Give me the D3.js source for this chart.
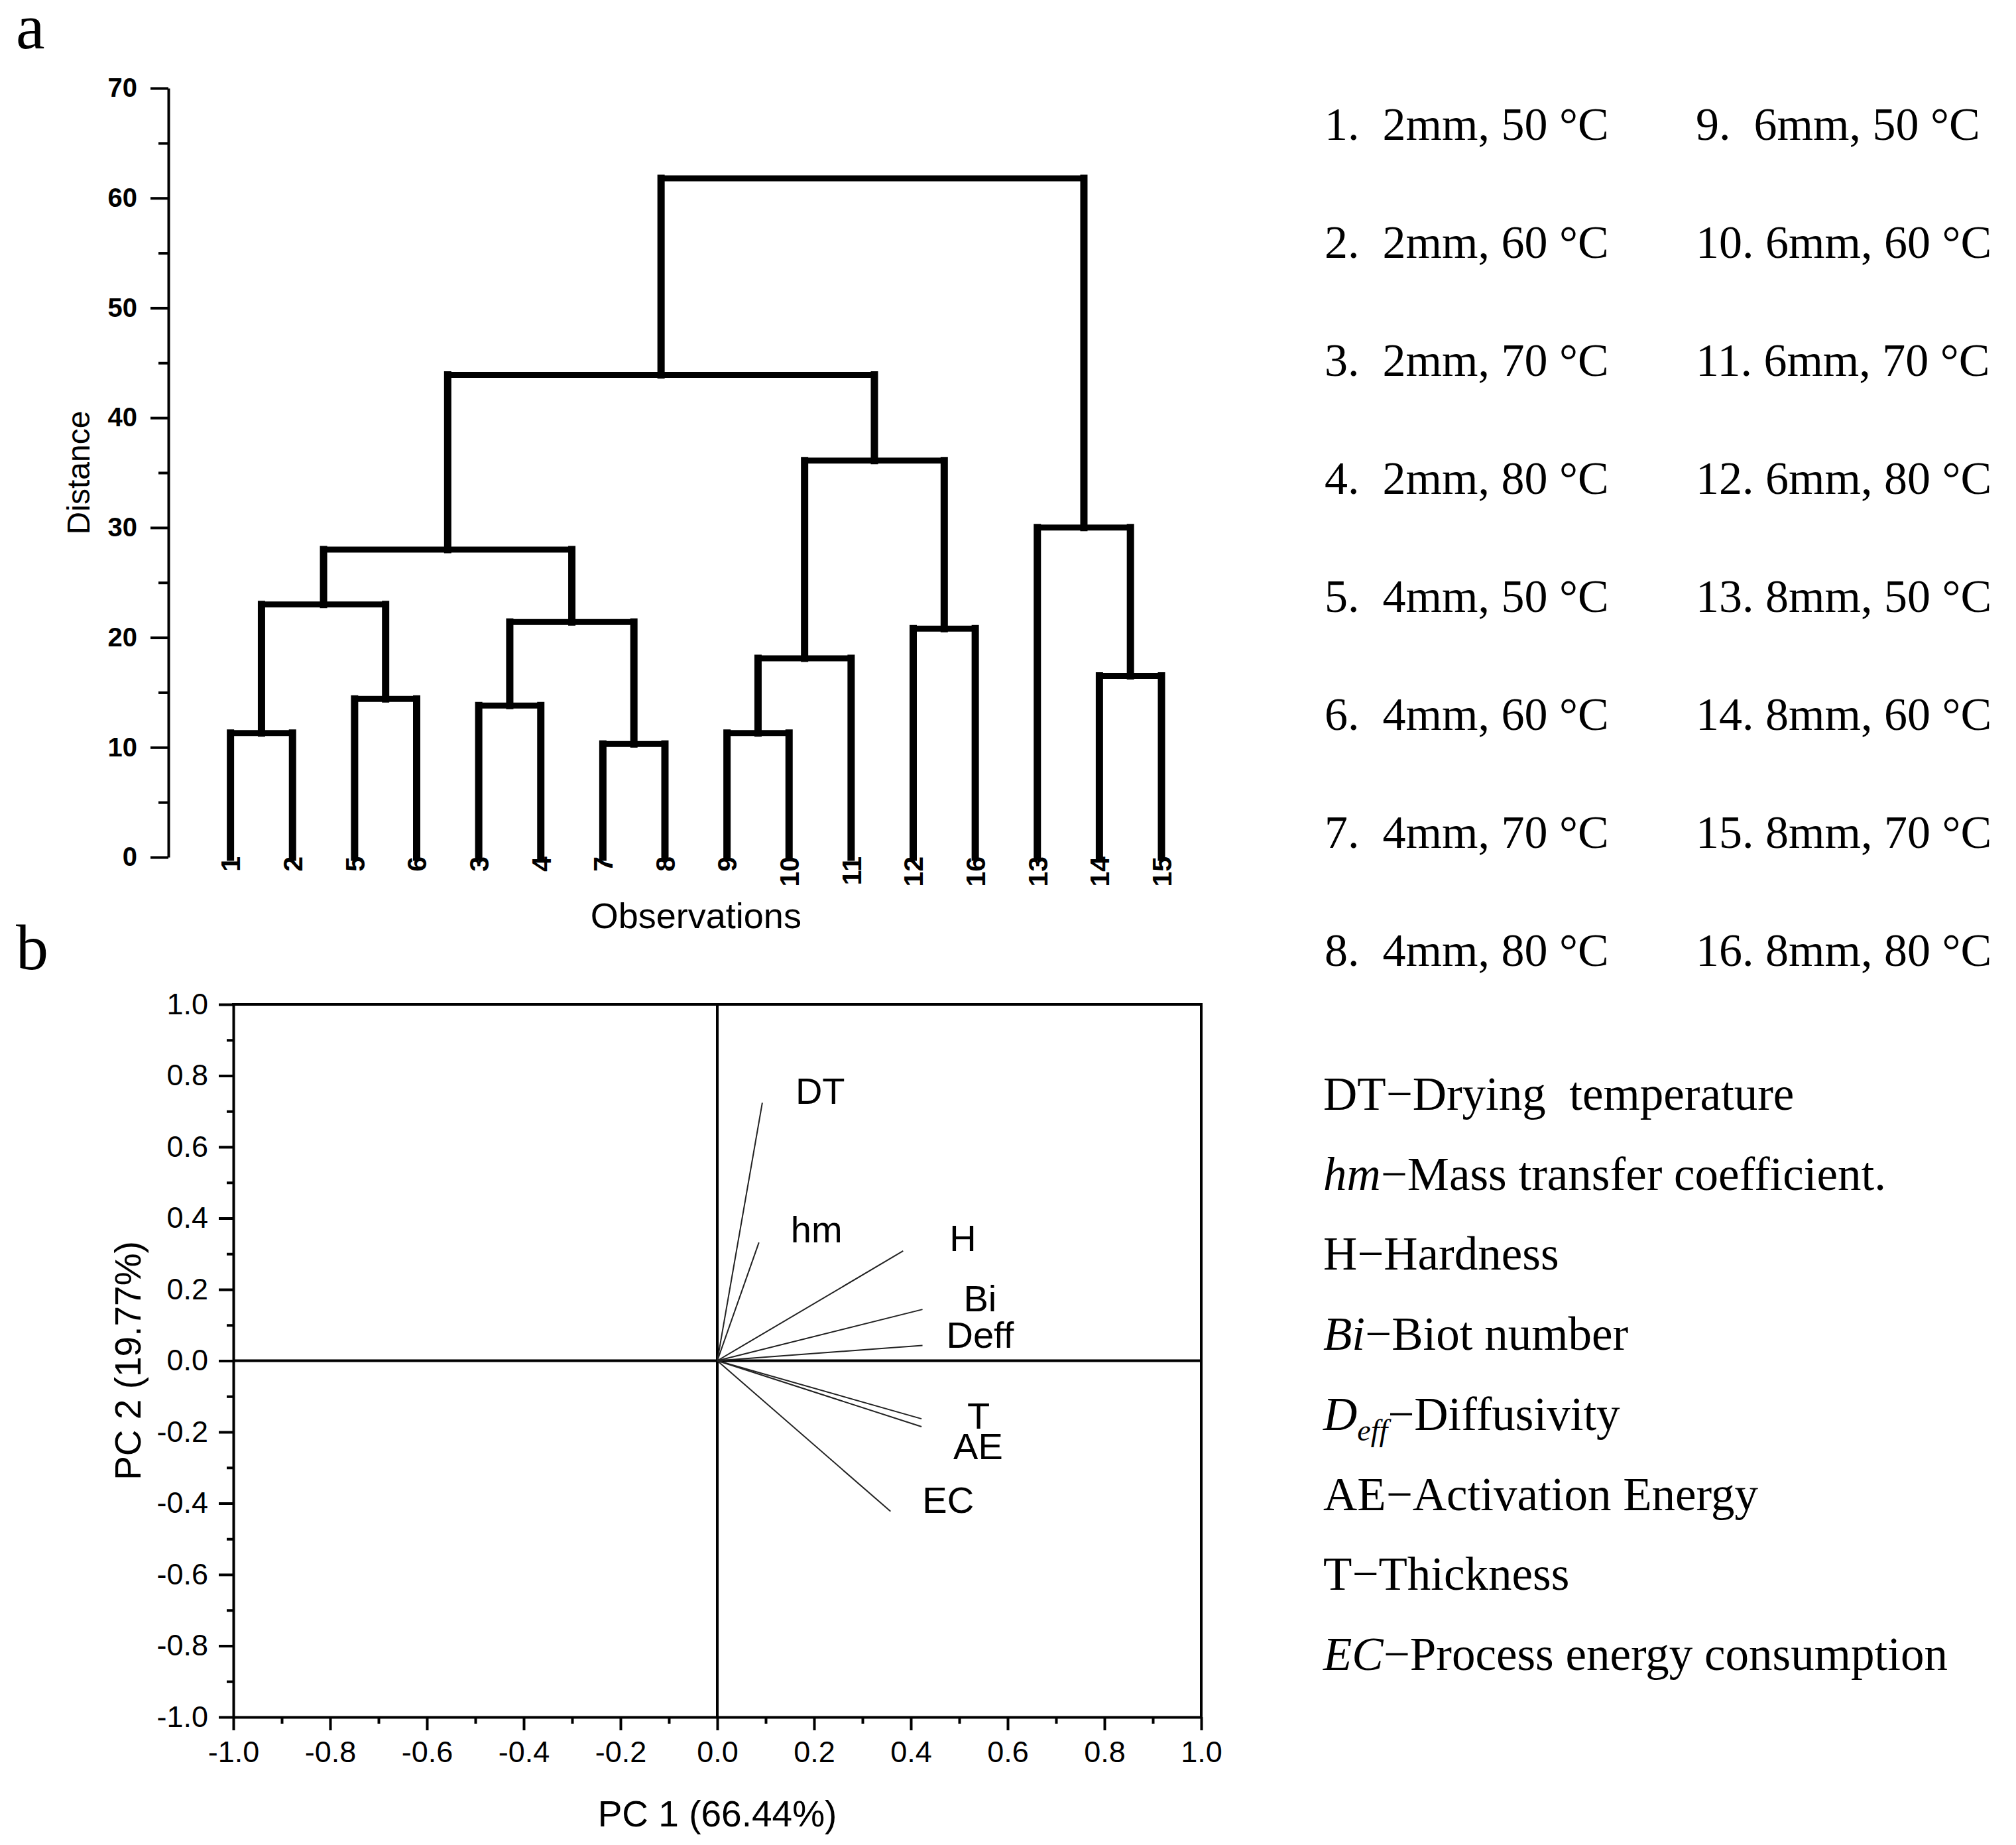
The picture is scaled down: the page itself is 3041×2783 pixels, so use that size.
<!DOCTYPE html>
<html>
<head>
<meta charset="utf-8">
<script src="https://cdn.jsdelivr.net/npm/d3@7"></script>
<style>
  html, body { margin: 0; padding: 0; background: #fff; }
  svg { display: block; }
  text { white-space: pre; }
</style>
</head>
<body>
<script>
// ---------------- DATA ----------------
// Dendrogram (panel a)
const leafOrder = ["1","2","5","6","3","4","7","8","9","10","11","12","16","13","14","15"];
// merges m1..m15 (left child, right child, distance)
const mergeLeft   = ["1","5","3","7","9","m5","12","14","m1","m3","m9","m6","m11","13","m13"];
const mergeRight  = ["2","6","4","8","10","11","16","15","m2","m4","m10","m7","m12","m8","m14"];
const mergeHeight = [11.3,14.4,13.8,10.3,11.3,18.1,20.8,16.5,23.0,21.4,28.0,36.1,43.9,30.0,61.8];
const distanceTicks = [0,10,20,30,40,50,60,70];

// PCA loadings (panel b)
const variables = ["DT","hm","H","Bi","Deff","T","AE","EC"];
const pc1 = [0.093,0.086,0.384,0.424,0.424,0.422,0.422,0.358];
const pc2 = [0.724,0.332,0.308,0.144,0.043,-0.163,-0.185,-0.423];
const pcTicks = [-1.0,-0.8,-0.6,-0.4,-0.2,0.0,0.2,0.4,0.6,0.8,1.0];

// Legends
const sampleLegendCol1 = ["1.  2mm, 50 °C","2.  2mm, 60 °C","3.  2mm, 70 °C","4.  2mm, 80 °C",
                          "5.  4mm, 50 °C","6.  4mm, 60 °C","7.  4mm, 70 °C","8.  4mm, 80 °C"];
const sampleLegendCol2 = ["9.  6mm, 50 °C","10. 6mm, 60 °C","11. 6mm, 70 °C","12. 6mm, 80 °C",
                          "13. 8mm, 50 °C","14. 8mm, 60 °C","15. 8mm, 70 °C","16. 8mm, 80 °C"];
const variableAbbr = ["DT","hm","H","Bi","D","AE","T","EC"];
const variableAbbrSub = ["","","","","eff","","",""];
const variableAbbrItalic = [false,true,false,true,true,false,false,true];
const variableNames = ["−Drying  temperature","−Mass transfer coefficient.","−Hardness","−Biot number",
                       "−Diffusivity","−Activation Energy","−Thickness","−Process energy consumption"];

// ---------------- LAYOUT ----------------
const W = 3041, H = 2783;
const SANS = "'Liberation Sans', Arial, Helvetica, sans-serif";
const SERIF = "'Liberation Serif', 'Times New Roman', Times, serif";

const svg = d3.select("body").append("svg")
  .attr("width", W).attr("height", H)
  .attr("viewBox", `0 0 ${W} ${H}`);
svg.append("rect").attr("width", W).attr("height", H).attr("fill", "#fff");

// panel letters
svg.append("text").attr("x", 24).attr("y", 73).text("a")
  .attr("font-family", SERIF).attr("font-size", 98).attr("fill", "#000");
svg.append("text").attr("x", 24).attr("y", 1462).text("b")
  .attr("font-family", SERIF).attr("font-size", 98).attr("fill", "#000");

// ---------------- PANEL A: dendrogram ----------------
const dx = d3.scaleLinear().domain([0, 16]).range([254, 1752]);
const dy = d3.scaleLinear().domain([0, 70]).range([1293, 133]);

const gA = svg.append("g");

// y axis
const yAxisA = d3.axisLeft(dy).tickValues(distanceTicks).tickSize(27).tickPadding(20).tickSizeOuter(0)
  .tickFormat(d3.format("d"));
const ga = gA.append("g").attr("transform", `translate(${dx(0)},0)`).call(yAxisA);
ga.select(".domain").attr("stroke-width", 4).attr("stroke", "#000");
ga.selectAll(".tick line").attr("stroke-width", 4).attr("stroke", "#000");
ga.selectAll(".tick text").attr("font-family", SANS).attr("font-weight", "bold")
  .attr("font-size", 40).attr("fill", "#000");
const minorA = d3.axisLeft(dy).tickValues(d3.range(5, 70, 10)).tickSize(15).tickFormat("").tickSizeOuter(0);
const gm = gA.append("g").attr("transform", `translate(${dx(0)},0)`).call(minorA);
gm.select(".domain").remove();
gm.selectAll(".tick line").attr("stroke-width", 4).attr("stroke", "#000");

// node positions
const nodePos = {};
leafOrder.forEach((id, i) => { nodePos[id] = { x: dx(i + 1), h: 0 }; });
const links = [];
mergeHeight.forEach((h, i) => {
  const id = "m" + (i + 1);
  const L = nodePos[mergeLeft[i]], R = nodePos[mergeRight[i]];
  nodePos[id] = { x: (L.x + R.x) / 2, h: h };
  links.push({ l: L, r: R, h: h });
});

const verts = [], horiz = [];
links.forEach(k => {
  verts.push({ x: k.l.x, h0: k.l.h, h1: k.h });
  verts.push({ x: k.r.x, h0: k.r.h, h1: k.h });
  horiz.push({ x0: k.l.x, x1: k.r.x, h: k.h });
});

gA.append("g").selectAll("line").data(verts).join("line")
  .attr("x1", d => d.x).attr("x2", d => d.x)
  .attr("y1", d => dy(d.h0)).attr("y2", d => dy(d.h1))
  .attr("stroke", "#000").attr("stroke-width", 11).attr("stroke-linecap", "square");
gA.append("g").selectAll("line").data(horiz).join("line")
  .attr("x1", d => d.x0).attr("x2", d => d.x1)
  .attr("y1", d => dy(d.h)).attr("y2", d => dy(d.h))
  .attr("stroke", "#000").attr("stroke-width", 9).attr("stroke-linecap", "square");

// leaf labels
gA.append("g").selectAll("text").data(leafOrder).join("text")
  .attr("transform", (d, i) => `translate(${dx(i + 1)},${dy(0) - 1}) rotate(-90)`)
  .attr("text-anchor", "end").attr("dy", "0.36em")
  .attr("font-family", SANS).attr("font-weight", "bold").attr("font-size", 41).attr("fill", "#000")
  .text(d => d);

// axis titles
gA.append("text").attr("transform", `translate(135,${dy(35)}) rotate(-90)`)
  .attr("text-anchor", "middle").attr("font-family", SANS).attr("font-size", 48).attr("fill", "#000")
  .text("Distance");
gA.append("text").attr("x", dx(8.5)).attr("y", 1400).attr("text-anchor", "middle")
  .attr("font-family", SANS).attr("font-size", 54).attr("fill", "#000").text("Observations");

// ---------------- PANEL B: PCA loadings ----------------
const px = d3.scaleLinear().domain([-1, 1]).range([352, 1812]);
const py = d3.scaleLinear().domain([-1, 1]).range([2590, 1515]);
const gB = svg.append("g");
const fmt = d => d.toFixed(1);

// frame top & right
gB.append("line").attr("x1", px(-1)).attr("x2", px(1)).attr("y1", py(1)).attr("y2", py(1))
  .attr("stroke", "#000").attr("stroke-width", 4).attr("stroke-linecap", "square");
gB.append("line").attr("x1", px(1)).attr("x2", px(1)).attr("y1", py(1)).attr("y2", py(-1))
  .attr("stroke", "#000").attr("stroke-width", 4).attr("stroke-linecap", "square");

// crosshair
gB.append("line").attr("x1", px(-1)).attr("x2", px(1)).attr("y1", py(0)).attr("y2", py(0))
  .attr("stroke", "#000").attr("stroke-width", 4);
gB.append("line").attr("x1", px(0)).attr("x2", px(0)).attr("y1", py(1)).attr("y2", py(-1))
  .attr("stroke", "#000").attr("stroke-width", 4);

// left axis
const gl = gB.append("g").attr("transform", `translate(${px(-1)},0)`)
  .call(d3.axisLeft(py).tickValues(pcTicks).tickSize(22).tickPadding(16).tickSizeOuter(0).tickFormat(fmt));
gl.append("g").call(d3.axisLeft(py).tickValues(d3.range(-0.9, 1.0, 0.2)).tickSize(10).tickFormat("").tickSizeOuter(0))
  .select(".domain").remove();
// bottom axis
const gbx = gB.append("g").attr("transform", `translate(0,${py(-1)})`)
  .call(d3.axisBottom(px).tickValues(pcTicks).tickSize(20).tickPadding(16).tickSizeOuter(0).tickFormat(fmt));
gbx.append("g").call(d3.axisBottom(px).tickValues(d3.range(-0.9, 1.0, 0.2)).tickSize(10).tickFormat("").tickSizeOuter(0))
  .select(".domain").remove();
[gl, gbx].forEach(g => {
  g.selectAll(".domain").attr("stroke", "#000").attr("stroke-width", 4);
  g.selectAll(".tick line").attr("stroke", "#000").attr("stroke-width", 4);
  g.selectAll(".tick text").attr("font-family", SANS).attr("font-size", 45).attr("fill", "#000");
});

// loading vectors
const vecs = variables.map((v, i) => ({ name: v, x: pc1[i], y: pc2[i] }));
gB.append("g").selectAll("line").data(vecs).join("line")
  .attr("x1", px(0)).attr("y1", py(0))
  .attr("x2", d => px(d.x)).attr("y2", d => py(d.y))
  .attr("stroke", "#222").attr("stroke-width", 2);

// label offsets (pixels from vector tip: left edge, baseline)
const labelOffset = {
  DT: [50, 2], hm: [48, 0], H: [70, 0], Bi: [62, 3],
  Deff: [36, 4], T: [69, 15], AE: [48, 49], EC: [48, 2]
};
gB.append("g").selectAll("text").data(vecs).join("text")
  .attr("x", d => px(d.x) + labelOffset[d.name][0])
  .attr("y", d => py(d.y) + labelOffset[d.name][1])
  .attr("font-family", SANS).attr("font-size", 56).attr("fill", "#000")
  .text(d => d.name);

// axis titles
gB.append("text").attr("x", px(0)).attr("y", 2755).attr("text-anchor", "middle")
  .attr("font-family", SANS).attr("font-size", 55).attr("fill", "#000").text("PC 1 (66.44%)");
gB.append("text").attr("transform", `translate(212,${py(0)}) rotate(-90)`).attr("text-anchor", "middle")
  .attr("font-family", SANS).attr("font-size", 55).attr("fill", "#000").text("PC 2 (19.77%)");

// ---------------- LEGENDS ----------------
const gL = svg.append("g").attr("font-family", SERIF).attr("font-size", 70).attr("fill", "#000");
const rowY = d3.scaleLinear().domain([0, 7]).range([211, 1457]);
gL.selectAll("text.c1").data(sampleLegendCol1).join("text").attr("class", "c1")
  .attr("x", 1998).attr("y", (d, i) => rowY(i)).text(d => d);
gL.selectAll("text.c2").data(sampleLegendCol2).join("text").attr("class", "c2")
  .attr("x", 2558).attr("y", (d, i) => rowY(i)).text(d => d);

const rowY2 = d3.scaleLinear().domain([0, 7]).range([1674, 2519]);
const gL2 = svg.append("g").attr("font-family", SERIF).attr("font-size", 71).attr("fill", "#000");
variableAbbr.forEach((ab, i) => {
  const t = gL2.append("text").attr("x", 1996).attr("y", rowY2(i));
  t.append("tspan").attr("font-style", variableAbbrItalic[i] ? "italic" : "normal").text(ab);
  if (variableAbbrSub[i]) {
    t.append("tspan").attr("font-style", "italic").attr("font-size", 46).attr("dy", 16).text(variableAbbrSub[i]);
    t.append("tspan").attr("dy", -16).text(variableNames[i]);
  } else {
    t.append("tspan").text(variableNames[i]);
  }
});
</script>
</body>
</html>
